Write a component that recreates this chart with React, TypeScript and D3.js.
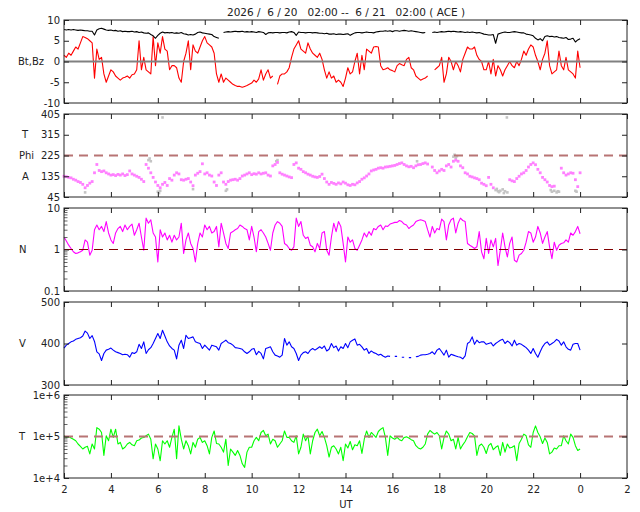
import { useEffect, useRef } from 'react';
import * as d3 from 'd3';

// one reading every 0.1 h, starting 6/20 02:00 UT
const START_HOUR = 2;
const STEP_HOURS = 0.1;

const titleText = '2026 /  6 / 20   02:00 --  6 / 21   02:00 ( ACE )';
const hourTickValues = [2, 4, 6, 8, 10, 12, 14, 16, 18, 20, 22, 24, 26];
const hourTickLabels = ['2', '4', '6', '8', '10', '12', '14', '16', '18', '20', '22', '0', '2'];

// Bt (nT)
const btValues: (number | null)[] = [
  7.7, 7.6, 7.7, 7.6, 7.7, 7.6, 7.5, 7.6, 7.5, 7.4,
  7.4, 7.3, 7.3, 6.4, 7.6, 7.9, 8.0, 7.8, 7.6, 7.5,
  7.6, 7.4, 7.5, 7.3, 7.4, 7.2, 7.3, 7.2, 7.2, 7.3,
  7.1, 7.2, 7.0, 7.1, 6.9, 6.8, 6.9, 6.5, 6.2, 5.6,
  6.3, 6.8, 7.1, 6.9, 7.0, 6.9, 7.0, 6.8, 6.9, 6.8,
  7.0, 6.7, 6.6, 6.4, 6.5, 6.4, 6.6, 7.0, 7.1, 6.9,
  6.8, 6.7, 6.6, 6.5, 6.0, 5.8, 5.6, null, 7.0, 7.1,
  7.2, 7.1, 7.2, 7.3, 7.2, 7.2, 7.3, 7.1, 7.2, 7.1,
  7.2, 7.1, 7.0, 7.2, 7.1, 7.0, 6.5, 6.9, 7.0, 6.9,
  7.0, 7.0, 6.9, 7.0, 7.0, 6.9, 7.1, 7.2, 7.0, 6.3,
  7.1, 7.0, 7.0, 6.9, 7.0, 7.0, 6.9, 7.0, 6.9, 6.8,
  6.8, 6.7, 6.8, 6.6, 6.6, 6.7, 6.5, 6.6, 6.6, 6.5,
  6.6, 6.7, 6.3, 6.6, 6.9, 7.0, 7.0, 6.9, 7.0, 7.1,
  7.0, 7.0, 6.9, 7.1, 7.2, 7.3, 7.3, 7.4, 7.3, 7.4,
  7.2, 7.4, 7.4, 7.3, 7.4, 7.5, 7.4, 7.3, 7.4, 7.3,
  7.2, 7.1, 7.0, 6.9, 7.0, null, null, 7.0, 7.1, 7.0,
  7.1, 7.2, 7.1, 7.2, 7.3, 7.2, 7.3, 7.2, 7.1, 7.2,
  7.1, 7.0, 7.1, 7.0, 7.1, 7.0, 6.9, 7.0, 6.8, 6.6,
  6.5, 6.4, 6.4, 6.5, 4.4, 6.6, 6.8, 7.0, 7.1, 7.0,
  7.0, 7.1, 7.2, 7.1, 7.0, 6.9, 6.9, 6.6, 6.5, 6.4,
  6.2, 5.6, 5.2, 5.5, 5.0, 6.0, 6.2, 6.0, 6.1, 5.9,
  6.0, 5.8, 5.7, 5.6, 5.8, 5.3, 5.4, 5.6, 4.7, 5.2,
  5.5,
];

// Bz (nT)
const bzValues: (number | null)[] = [
  1.5, 1.0, 2.0, 1.5, 2.5, 3.5, 3.0, 4.5, 6.0, 5.8,
  5.5, 5.0, 4.5, -4.0, 3.0, 0.5, 1.0, -3.0, -5.0, -3.5,
  -2.0, -2.5, -3.5, -4.0, -4.5, -4.0, -3.8, -3.5, -4.0, -3.2,
  -3.0, -2.0, 5.0, -2.0, 1.0, -2.0, -2.5, -3.0, 6.0, -1.0,
  4.5, 2.0, 6.0, 3.0, 2.5, -2.0, -1.0, -1.0, -1.5, -4.0,
  -5.0, 0.0, 2.0, 5.0, -2.0, 4.0, 2.5, 2.0, 3.5, 5.0,
  6.0, 4.5, 4.0, 3.5, 2.0, -3.0, -5.0, -3.0, -5.0, -4.0,
  -4.5, -5.0, -5.5, -5.8, -6.0, -6.0, -6.2, -6.0, -5.8, -5.5,
  -5.2, -4.5, -5.0, -4.2, -2.0, -4.5, -3.0, -2.0, -4.0, -3.5,
  null, -5.5, -3.5, -3.0, -3.0, -2.5, -1.5, 1.0, 3.0, 4.0,
  5.0, 3.0, 2.5, 2.0, 4.5, 3.0, 2.0, 1.5, 1.0, 2.0,
  0.5, -2.0, -4.0, -2.5, -4.0, -3.5, -5.0, -4.5, -5.0, -6.0,
  -4.0, -1.5, -3.0, -2.5, 0.0, 2.0, -3.0, 1.5, -2.0, 3.0,
  2.5, 2.0, 3.5, 3.6, 3.5, -1.0, -2.0, -1.8, -1.5, -2.0,
  -2.2, -2.5, -1.0, -0.5, -0.8, -1.0, 0.5, 1.0, -1.5, -2.0,
  -3.5, -4.0, -4.5, -4.2, -4.0, -3.5, null, null, -2.0, -1.5,
  -1.0, 1.0, -5.0, -3.0, 1.0, 0.0, -2.0, 0.0, -1.0, -2.5,
  0.5, 2.0, 3.5, 3.0, 3.0, 3.5, 1.5, 0.5, 0.0, -2.0,
  -2.0, 0.0, -3.0, 0.5, -3.5, -1.0, -2.0, -3.5, -2.0, -1.0,
  0.0, -1.0, -1.5, 0.0, -1.0, 0.5, 2.5, 1.5, 3.0, 4.0,
  3.5, 1.5, 0.0, -2.0, 0.5, 2.0, 5.0, -1.0, -3.0, -2.5,
  -2.0, 2.5, -1.0, -2.0, 1.0, -2.0, -2.5, -3.0, -4.0, 2.5,
  -1.5,
];

// Phi angle (deg), good-quality points
const phiValues: (number | null)[] = [
  135, 133, 130, 128, 122, 118, 112, 108, 100, 85,
  95, 105, 112, 150, 186, 160, 155, 158, 150, 145,
  140, 142, 138, 143, 140, 145, 138, 142, 158, 145,
  140, 135, 130, 122, 112, 186, 170, 150, 130, 110,
  95, 85, 100, 108, 95, 125, 118, 140, 150, 145,
  120, 118, 122, 125, 110, 94, 140, 148, 155, 189,
  145, 150, 140, 136, 110, 95, 140, 150, 110, 100,
  112, 118, 120, 122, 118, 125, 136, 140, 145, 150,
  142, 146, 144, 150, 145, 148, 150, 140, 136, 180,
  186, 195, 150, 144, 140, 136, 132, 129, 186, 193,
  170, 165, 155, 150, 144, 140, 135, 132, 130, 134,
  144, 125, 110, 100, 108, 104, 100, 106, 102, 110,
  105, 98, 95, 100, 98, 106, 112, 122, 128, 136,
  145, 158, 162, 165, 170, 172, 170, 175, 176, 178,
  180, 182, 186, 190, 193, 186, 180, 176, 178, 172,
  180, 185, 186, 190, 193, 188, null, 175, 160, 150,
  158, 165, 160, 180, 186, 175, 200, 205, 200, 180,
  172, 150, 145, 135, 132, 128, 125, 120, 105, 100,
  94, 130, 100, 85, null, null, null, null, null, null,
  120, 115, 112, 125, 135, 145, 150, 160, 175, 186,
  193, 185, 165, 150, 130, 120, 110, 95, 90, 92,
  null, null, 170, 150, 140, 145, 150, 148, 120, 90,
  150,
];

// Phi angle, flagged points (grey)
const phiGreyHours = [
  2.9, 5.6, 5.65, 5.7, 6.0, 6.05, 6.1, 6.2, 7.5, 8.9, 8.95, 11.05, 11.1, 17.05,
  18.6, 18.65, 18.7, 18.75, 20.4, 20.45, 20.5, 20.55, 20.6, 20.7, 20.75, 20.8,
  20.88, 20.9, 22.75, 22.8, 22.9, 23.0, 23.05, 23.1, 23.8, 23.85,
];
const phiGreyValues = [
  65, 205, 212, 200, 68, 62, 72, 390, 79, 72, 78, 200, 205, 200,
  220, 228, 215, 222, 75, 80, 70, 66, 72, 78, 62, 70,
  390, 65, 75, 68, 72, 65, 70, 68, 72, 68,
];

// proton density (cm^-3)
const densityValues: (number | null)[] = [
  2.0, 1.6, 1.27, 1.06, 0.88, 0.8, 0.83, 0.88, 0.96, 1.7,
  1.5, 0.73, 0.96, 3.0, 3.9, 3.0, 3.6, 2.7, 4.7, 2.5,
  1.7, 1.4, 2.5, 3.2, 3.6, 2.7, 3.9, 3.0, 3.6, 4.1,
  2.2, 3.0, 4.3, 2.0, 0.96, 5.7, 4.3, 5.2, 2.5, 2.0,
  0.5, 3.0, 2.0, 2.5, 1.7, 2.2, 1.5, 2.2, 1.7, 2.0,
  4.3, 0.8, 1.7, 2.5, 1.4, 1.06, 0.5, 1.4, 2.5, 2.0,
  3.9, 3.0, 3.6, 2.5, 2.7, 3.6, 1.16, 4.3, 2.5, 1.4,
  1.06, 2.5, 2.7, 3.0, 3.2, 3.9, 3.6, 3.2, 3.0, 1.7,
  3.6, 2.0, 0.88, 2.7, 3.0, 2.5, 2.0, 1.4, 0.96, 2.5,
  3.9, 4.7, 4.3, 3.6, 1.4, 1.27, 1.06, 0.96, 1.16, 5.7,
  3.6, 4.7, 2.2, 1.85, 2.0, 1.27, 1.16, 0.88, 1.4, 1.06,
  2.5, 2.7, 0.96, 0.73, 2.0, 4.3, 2.7, 4.7, 3.6, 1.4,
  0.5, 2.0, 1.5, 1.7, 1.06, 0.96, 1.27, 1.7, 2.5, 2.0,
  2.7, 2.2, 3.2, 3.0, 3.6, 3.9, 3.0, 3.7, 3.6, 4.1,
  4.3, 4.5, 4.5, 5.0, 4.7, 4.1, 3.9, 3.2, 3.6, 3.9,
  4.7, 5.0, 5.2, 5.0, 4.7, 3.0, 2.0, 3.6, 2.5, 3.2,
  3.0, 5.4, 4.7, 1.7, 3.9, 5.2, 5.7, 2.5, 4.3, 5.7,
  5.0, 4.7, 1.4, 1.27, 1.16, 1.06, 1.16, 2.7, 0.88, 0.6,
  1.85, 0.8, 1.7, 1.16, 1.85, 0.41, 0.96, 2.5, 1.16, 0.66,
  1.4, 2.0, 0.55, 0.5, 0.73, 0.8, 0.96, 1.5, 2.7, 2.5,
  1.5, 2.0, 3.6, 2.5, 1.4, 2.0, 2.7, 1.16, 0.6, 1.5,
  0.96, 1.27, 1.4, 1.45, 1.7, 1.5, 2.5, 2.2, 2.7, 3.6,
  2.4,
];

// bulk speed (km/s)
const speedValues: (number | null)[] = [
  389, 396, 400, 404, 406, 410, 412, 414, 418, 430,
  425, 412, 419, 405, 380, 375, 359, 376, 384, 386,
  389, 384, 380, 378, 376, 373, 374, 373, 367, 378,
  376, 380, 398, 388, 404, 376, 385, 390, 400, 412,
  424, 412, 432, 418, 404, 394, 388, 384, 363, 396,
  408, 388, 420, 412, 414, 416, 404, 402, 400, 388,
  396, 390, 384, 396, 394, 392, 384, 400, 404, 408,
  402, 400, 396, 390, 389, 388, 386, 380, 376, 380,
  386, 388, 373, 381, 376, 363, 388, 390, 392, 380,
  372, 370, 367, 372, 412, 396, 404, 392, 388, 376,
  359, 372, 378, 380, 376, 384, 388, 384, 388, 392,
  388, 394, 382, 386, 400, 390, 394, 382, 392, 388,
  400, 390, 404, 408, 411, 396, 398, 392, 384, 388,
  376, 382, 378, 376, 372, 374, 370, 367, 370, 369,
  null, 369, 369, null, 367, 367, null, 366, 366, null,
  368, 369, 372, 373, 373, 374, 376, 380, 374, 384,
  388, 380, 372, 384, 367, 374, 372, 370, 368, 367,
  363, 370, 400, 404, 416, 398, 408, 402, 404, 404,
  398, 400, 402, 394, 400, 404, 408, 410, 400, 406,
  402, 394, 408, 396, 400, 398, 394, 390, 384, 376,
  388, 376, 367, 380, 392, 400, 404, 396, 400, 404,
  410, 406, 396, 404, 392, 386, 384, 398, 400, 400,
  384,
];

// proton temperature (thousands of K)
const temperatureKK: (number | null)[] = [
  104, 95, 100, 92, 86, 79, 66, 58, 50, 55,
  58, 38, 66, 50, 164, 150, 125, 35, 104, 79,
  150, 95, 150, 66, 72, 50, 55, 66, 72, 63,
  60, 79, 82, 92, 95, 104, 114, 86, 29, 66,
  50, 26, 79, 66, 79, 55, 95, 150, 29, 180,
  86, 50, 79, 60, 38, 72, 55, 86, 95, 72,
  79, 60, 38, 95, 136, 68, 66, 55, 42, 86,
  20, 50, 42, 35, 46, 35, 22, 18, 42, 55,
  55, 79, 95, 79, 125, 140, 104, 114, 66, 86,
  79, 55, 66, 79, 136, 95, 95, 79, 72, 104,
  38, 55, 114, 79, 104, 38, 79, 125, 150, 104,
  132, 95, 60, 32, 55, 60, 50, 38, 55, 26,
  66, 53, 76, 48, 63, 60, 79, 39, 86, 136,
  95, 125, 110, 95, 132, 150, 164, 95, 35, 104,
  92, 86, 95, 84, 79, 95, 98, 92, 84, 79,
  60, 53, 50, 55, 66, 114, 140, 125, 114, 125,
  104, 50, 95, 136, 114, 79, 86, 50, 95, 50,
  63, 76, 98, 125, 118, 104, 35, 60, 66, 55,
  39, 60, 68, 48, 55, 60, 35, 72, 42, 66,
  53, 55, 60, 26, 68, 86, 114, 104, 63, 55,
  125, 180, 125, 98, 68, 92, 72, 38, 42, 53,
  50, 60, 60, 104, 79, 66, 114, 95, 60, 46,
  50,
];

const hourAt = (i: number) => START_HOUR + i * STEP_HOURS;

export default function App() {
  const svgRef = useRef<SVGSVGElement>(null);

  useEffect(() => {
    if (!svgRef.current) return;
    const svg = d3.select(svgRef.current);
    svg.selectAll('*').remove();

    const left = 64, right = 627, panelH = 83;
    const tops = [20, 114, 208, 302, 395];
    const font = 'DejaVu Sans, sans-serif';
    const fontSize = 10;
    const ink = '#222';

    svg.append('rect').attr('width', 640).attr('height', 512).attr('fill', '#fff');

    const x = d3.scaleLinear().domain([2, 26]).range([left, right]);

    svg.append('text')
      .attr('x', 346).attr('y', 16)
      .attr('text-anchor', 'middle')
      .attr('font-family', font).attr('font-size', fontSize + 0.5).attr('fill', ink)
      .style('white-space', 'pre')
      .text(titleText);

    type Panel = {
      y: d3.ScaleContinuousNumeric<number, number>;
      ticks: number[];
      labels: string[];
      minor?: number[];
      names: { text: string; at: number; x: number }[];
    };

    const logMinor = (lo: number, hi: number) => {
      const out: number[] = [];
      for (let d = lo; d < hi; d *= 10) for (let k = 2; k <= 9; k++) out.push(d * k);
      return out;
    };

    const panels: Panel[] = [
      {
        y: d3.scaleLinear().domain([-10, 10]).range([tops[0] + panelH, tops[0]]),
        ticks: [-10, -5, 0, 5, 10], labels: ['-10', '-5', '0', '5', '10'],
        names: [{ text: 'Bt,Bz', at: 0, x: 18 }],
      },
      {
        y: d3.scaleLinear().domain([45, 405]).range([tops[1] + panelH, tops[1]]),
        ticks: [45, 135, 225, 315, 405], labels: ['45', '135', '225', '315', '405'],
        names: [{ text: 'T', at: 315, x: 22 }, { text: 'Phi', at: 225, x: 19 }, { text: 'A', at: 135, x: 22 }],
      },
      {
        y: d3.scaleLog().domain([0.1, 10]).range([tops[2] + panelH, tops[2]]),
        ticks: [0.1, 1, 10], labels: ['0.1', '1', '10'], minor: logMinor(0.1, 10),
        names: [{ text: 'N', at: 1, x: 19 }],
      },
      {
        y: d3.scaleLinear().domain([300, 500]).range([tops[3] + panelH, tops[3]]),
        ticks: [300, 400, 500], labels: ['300', '400', '500'],
        names: [{ text: 'V', at: 400, x: 19 }],
      },
      {
        y: d3.scaleLog().domain([1e4, 1e6]).range([tops[4] + panelH, tops[4]]),
        ticks: [1e4, 1e5, 1e6], labels: ['1e+4', '1e+5', '1e+6'], minor: logMinor(1e4, 1e6),
        names: [{ text: 'T', at: 1e5, x: 19 }],
      },
    ];

    const seriesLine = (y: d3.ScaleContinuousNumeric<number, number>) =>
      d3.line<number | null>()
        .defined(v => v != null)
        .x((_, i) => x(hourAt(i)))
        .y(v => y(v as number));

    const drawLine = (p: Panel, values: (number | null)[], color: string) =>
      svg.append('path')
        .datum(values)
        .attr('fill', 'none')
        .attr('stroke', color)
        .attr('stroke-width', 1.1)
        .attr('stroke-linejoin', 'round')
        .attr('d', seriesLine(p.y));

    const refLine = (p: Panel, v: number, color: string, w: number, dash: string) =>
      svg.append('line')
        .attr('x1', left).attr('x2', right)
        .attr('y1', p.y(v)).attr('y2', p.y(v))
        .attr('stroke', color).attr('stroke-width', w)
        .attr('stroke-dasharray', dash);

    // panel 1: Bt, Bz
    drawLine(panels[0], bzValues, '#ff0000');
    drawLine(panels[0], btValues, '#000000');
    refLine(panels[0], 0, '#808080', 2, 'none');

    // panel 2: phi
    const pp = panels[1];
    svg.append('g').selectAll('rect')
      .data(phiGreyHours.map((h, i) => [h, phiGreyValues[i]]))
      .join('rect')
      .attr('x', d => x(d[0]) - 1.3).attr('y', d => pp.y(d[1]) - 1.3)
      .attr('width', 2.6).attr('height', 2.6).attr('fill', '#c4c4c4');
    refLine(pp, 225, '#b87474', 2, '9,6');
    svg.append('g').selectAll('rect')
      .data(phiValues.map((v, i) => [hourAt(i), v]).filter(d => d[1] != null) as number[][])
      .join('rect')
      .attr('x', d => x(d[0]) - 1.4).attr('y', d => pp.y(d[1]) - 1.4)
      .attr('width', 2.8).attr('height', 2.8).attr('fill', '#ff80ff');

    // panel 3: density
    drawLine(panels[2], densityValues, '#ff00ff');
    refLine(panels[2], 1, '#800000', 1.2, '9,6');

    // panel 4: speed
    drawLine(panels[3], speedValues, '#0000ff');

    // panel 5: temperature
    drawLine(panels[4], temperatureKK.map(v => (v == null ? null : v * 1000)), '#00ff00');
    refLine(panels[4], 1e5, '#b87474', 2, '9,6');

    // frames, ticks, labels
    panels.forEach((p, pi) => {
      const top = tops[pi];
      const bottom = top + panelH;
      const styleAxis = (g: d3.Selection<SVGGElement, unknown, null, undefined>) => {
        g.select('.domain').remove();
        g.attr('color', ink).attr('font-family', font).attr('font-size', fontSize);
      };

      svg.append('g').attr('transform', `translate(0,${bottom})`)
        .call(d3.axisBottom(x).tickValues(hourTickValues).tickSize(-5)
          .tickFormat((_, i) => (pi === 4 ? hourTickLabels[i] : '')).tickPadding(8))
        .call(styleAxis);
      svg.append('g').attr('transform', `translate(0,${top})`)
        .call(d3.axisTop(x).tickValues(hourTickValues).tickSize(-5).tickFormat(() => ''))
        .call(styleAxis);

      svg.append('g').attr('transform', `translate(${left},0)`)
        .call(d3.axisLeft(p.y).tickValues(p.ticks).tickSize(-5).tickPadding(4)
          .tickFormat((_, i) => p.labels[i]))
        .call(styleAxis);
      svg.append('g').attr('transform', `translate(${right},0)`)
        .call(d3.axisRight(p.y).tickValues(p.ticks).tickSize(-5).tickFormat(() => ''))
        .call(styleAxis);
      if (p.minor) {
        svg.append('g').attr('transform', `translate(${left},0)`)
          .call(d3.axisLeft(p.y).tickValues(p.minor).tickSize(-3.5).tickFormat(() => ''))
          .call(styleAxis)
          .attr('color', '#666');
      }

      svg.append('rect')
        .attr('x', left).attr('y', top)
        .attr('width', right - left).attr('height', panelH)
        .attr('fill', 'none').attr('stroke', ink).attr('stroke-width', 1);

      p.names.forEach(n => {
        svg.append('text')
          .attr('x', n.x).attr('y', p.y(n.at)).attr('dy', '0.35em')
          .attr('font-family', font).attr('font-size', fontSize).attr('fill', ink)
          .text(n.text);
      });
    });

    svg.append('text')
      .attr('x', 346).attr('y', 508)
      .attr('text-anchor', 'middle')
      .attr('font-family', font).attr('font-size', fontSize).attr('fill', ink)
      .text('UT');
  }, []);

  return (
    <svg
      ref={svgRef}
      width={640}
      height={512}
      style={{ position: 'absolute', left: 0, top: 0 }}
    />
  );
}
